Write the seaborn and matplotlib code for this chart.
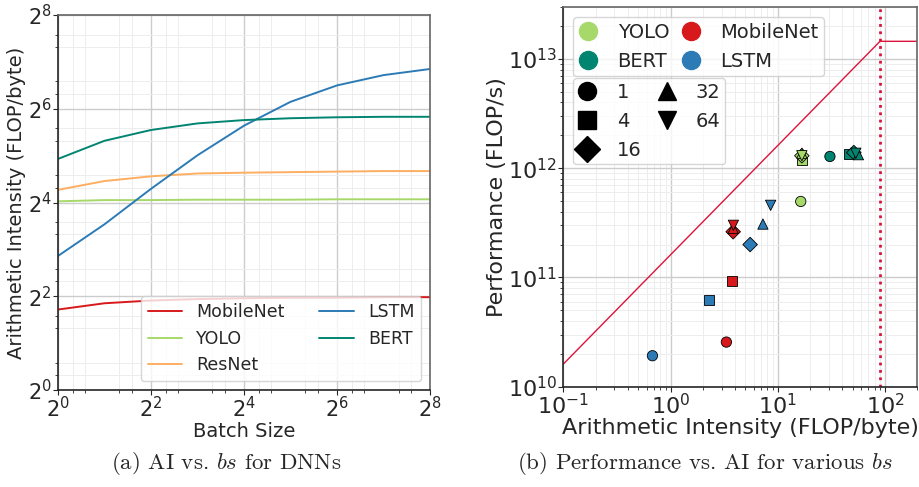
import numpy as np
import pandas as pd
import matplotlib
matplotlib.use("Agg")
import matplotlib.pyplot as plt
import matplotlib.ticker as mticker
from matplotlib.lines import Line2D
import seaborn as sns

# ---- data ----
batch_sizes = [1, 2, 4, 8, 16, 32, 64, 128, 256]
ai_mobilenet = [3.29, 3.61, 3.76, 3.84, 3.89, 3.92, 3.92, 3.95, 3.95]
ai_yolo = [16.3, 16.6, 16.6, 16.7, 16.7, 16.7, 16.8, 16.8, 16.8]
ai_resnet = [19.3, 22.0, 23.6, 24.6, 24.9, 25.1, 25.3, 25.5, 25.5]
ai_lstm = [7.26, 11.6, 19.6, 32.2, 49.9, 71.0, 90.5, 105.4, 115.4]
ai_bert = [30.5, 39.9, 46.8, 51.6, 54.2, 55.7, 56.5, 56.9, 56.9]

# roofline scatter: one entry per batch size 1, 4, 16, 32, 64
bs_points = [1, 4, 16, 32, 64]
yolo_ai = [16.4, 16.8, 16.8, 16.8, 16.8]
yolo_perf = [4.96e11, 1.18e12, 1.30e12, 1.37e12, 1.30e12]
bert_ai = [30.7, 46.5, 51.3, 56.6, 53.5]
bert_perf = [1.28e12, 1.35e12, 1.39e12, 1.33e12, 1.37e12]
mobilenet_ai = [3.32, 3.75, 3.84, 3.84, 3.86]
mobilenet_perf = [2.56e10, 9.3e10, 2.62e11, 2.81e11, 3.0e11]
lstm_ai = [0.678, 2.29, 5.53, 7.28, 8.59]
lstm_perf = [1.92e10, 6.2e10, 2.0e11, 3.08e11, 4.57e11]

PEAK_PERF = 1.45e13   # FLOP/s
RIDGE_AI = 90         # FLOP/byte

colors = {
    "MobileNet": "#d7191c",
    "YOLO": "#a6d96a",
    "ResNet": "#fdae61",
    "LSTM": "#2c7bb6",
    "BERT": "#018571",
}
markers = {1: "o", 4: "s", 16: "D", 32: "^", 64: "v"}

# ---- frames ----
left_series = {"MobileNet": ai_mobilenet, "YOLO": ai_yolo, "ResNet": ai_resnet,
               "LSTM": ai_lstm, "BERT": ai_bert}
df_left = pd.concat([pd.DataFrame({"bs": batch_sizes, "ai": v, "model": k})
                     for k, v in left_series.items()], ignore_index=True)

right_series = {"YOLO": (yolo_ai, yolo_perf), "BERT": (bert_ai, bert_perf),
                "MobileNet": (mobilenet_ai, mobilenet_perf), "LSTM": (lstm_ai, lstm_perf)}
df_right = pd.concat([pd.DataFrame({"bs": bs_points, "ai": a, "perf": p, "model": k})
                      for k, (a, p) in right_series.items()], ignore_index=True)

sns.set_style("ticks")
plt.rcParams["font.family"] = ["DejaVu Sans"]
plt.rcParams["mathtext.fontset"] = "dejavusans"

fig = plt.figure(figsize=(9.19, 4.87), dpi=100)
ax1 = fig.add_axes([0.063, 0.199, 0.405, 0.770])
ax2 = fig.add_axes([0.613, 0.206, 0.385, 0.780])

# ---- (a) AI vs batch size ----
sns.lineplot(data=df_left, x="bs", y="ai", hue="model", palette=colors,
             hue_order=list(left_series.keys()), estimator=None, linewidth=1.4,
             ax=ax1, legend=False)
ax1.set_xscale("log", base=2)
ax1.set_yscale("log", base=2)
ax1.set_xlim(1, 256)
ax1.set_ylim(1, 256)
for axis in (ax1.xaxis, ax1.yaxis):
    axis.set_major_locator(mticker.FixedLocator([1, 4, 16, 64, 256]))
    axis.set_major_formatter(mticker.LogFormatterSciNotation(base=2))
    axis.set_minor_locator(mticker.LogLocator(base=2, subs=[1.25, 1.5], numticks=20))
    axis.set_minor_formatter(mticker.NullFormatter())
ax1.grid(True, which="major", color="0.8", lw=1.0)
ax1.grid(True, which="minor", color="0.93", lw=0.7)
ax1.set_xlabel("Batch Size", fontsize=14, labelpad=0)
ax1.set_ylabel("Arithmetic Intensity (FLOP/byte)", fontsize=14, labelpad=1)
ax1.tick_params(axis="both", which="major", labelsize=15, pad=1)
handles = [Line2D([], [], color=colors[m], lw=1.4) for m in left_series]
ax1.legend(handles, list(left_series.keys()), ncol=2, loc="lower right", fontsize=12.5)

# ---- (b) roofline ----
roof_ai = [0.1, RIDGE_AI, 200]
roof_perf = [PEAK_PERF * 0.1 / RIDGE_AI, PEAK_PERF, PEAK_PERF]
sns.lineplot(x=roof_ai, y=roof_perf, color="crimson", lw=1.0, sort=False, ax=ax2)
ax2.axvline(RIDGE_AI, color="crimson", ls=":", lw=2.0)
sns.scatterplot(data=df_right, x="ai", y="perf", hue="model", style="bs",
                palette=colors, markers=markers, s=55, edgecolor="black",
                linewidth=0.6, legend=False, zorder=3, ax=ax2)
ax2.set_xscale("log")
ax2.set_yscale("log")
ax2.set_xlim(0.1, 200)
ax2.set_ylim(1e10, 3e13)
ax2.grid(True, which="major", color="0.8", lw=1.0)
ax2.grid(True, which="minor", color="0.93", lw=0.7)
ax2.set_xlabel("Arithmetic Intensity (FLOP/byte)", fontsize=16, labelpad=0)
ax2.set_ylabel("Performance (FLOP/s)", fontsize=16, labelpad=1)
ax2.tick_params(axis="both", which="major", labelsize=16, pad=1)

model_order = ["YOLO", "BERT", "MobileNet", "LSTM"]
h1 = [Line2D([], [], ls="", marker="o", markersize=13, color=colors[m]) for m in model_order]
leg1 = ax2.legend(h1, model_order, ncol=2, loc="upper left", bbox_to_anchor=(0.027, 0.973),
                  borderaxespad=0, fontsize=14, handlelength=1.0, handletextpad=1.0,
                  columnspacing=0.6, borderpad=0.3)
ax2.add_artist(leg1)
h2 = [Line2D([], [], ls="", marker=markers[b], markersize=13, color="black") for b in bs_points]
ax2.legend(h2, [str(b) for b in bs_points], ncol=2, loc="upper left",
           bbox_to_anchor=(0.027, 0.812), borderaxespad=0, fontsize=14,
           handlelength=1.0, handletextpad=1.0, columnspacing=0.8, borderpad=0.25)

for ax in (ax1, ax2):
    for s in ("top", "right"):
        ax.spines[s].set_color("0.4")
    for s in ax.spines.values():
        s.set_linewidth(1.2)

# ---- captions ----
plt.rcParams["mathtext.fontset"] = "cm"
fig.text(0.246, 0.049, r"(a) AI vs. $bs$ for DNNs", fontsize=16.5, family="cmr10",
         ha="center", va="center")
fig.text(0.767, 0.049, r"(b) Performance vs. AI for various $bs$", fontsize=16.5,
         family="cmr10", ha="center", va="center")

fig.savefig("out.png", dpi=100)
